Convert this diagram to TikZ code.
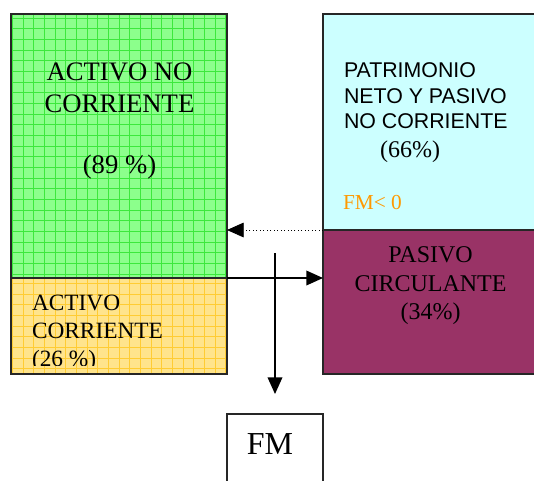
\documentclass[tikz,border=0pt]{standalone}
\usepackage{fontspec}
\setmainfont{Liberation Serif}
\setsansfont{Liberation Sans}
\usetikzlibrary{calc}
\usetikzlibrary{arrows,arrows.meta,shapes}
\usetikzlibrary{positioning}
\definecolor{verde}{RGB}{140,255,140}
\definecolor{verdegrid}{RGB}{60,232,60}
\definecolor{amarillo}{RGB}{255,228,140}
\definecolor{amarillogrid}{RGB}{255,204,51}
\definecolor{celeste}{RGB}{204,255,255}
\definecolor{ciruela}{RGB}{153,51,102}
\definecolor{naranja}{RGB}{255,153,0}

\begin{document}
\begin{tikzpicture}[x=0.75pt,y=-0.75pt]
      \tikzstyle{every node}=[inner sep=0pt,outer sep=0pt]
      \tikzstyle{caja}=[rectangle,draw=black!85,line width=1.2pt]
      \tikzstyle{rejillaverde}=[caja,fill=verde,path picture={\draw[verdegrid,line width=0.6pt,step=8pt] (path picture bounding box.south west) grid (path picture bounding box.north east);}]
      \tikzstyle{rejillaamarilla}=[caja,fill=amarillo,path picture={\draw[amarillogrid,line width=0.6pt,step=8pt] (path picture bounding box.south west) grid (path picture bounding box.north east);}]
      \tikzstyle{flecha}=[-{Triangle[length=12.5pt,width=11pt]},line width=1.1pt]
      \useasboundingbox (0,0) rectangle (534,480);
      \clip (0,0) rectangle (534,480);
      % cajas del balance
      \node[rejillaverde,minimum width=162pt,minimum height=198pt] (anc) at (119,146) {};
      \node[rejillaamarilla,minimum width=162pt,minimum height=72pt] (ac) at (119,326) {};
      \node[caja,fill=celeste,minimum width=166.5pt,minimum height=162pt] (pnc) at (434,122) {};
      \node[caja,fill=ciruela,minimum width=166.5pt,minimum height=108pt] (pc) at (434,302) {};
      \node[caja,fill=white,minimum width=72pt,minimum height=64.5pt] (fm) at (275,457) {};
      % textos
      \node[font=\fontsize{20}{24}\selectfont,align=center,anchor=north] (ancTxt) at (119.5,63) {ACTIVO NO\\CORRIENTE\\[21.75pt](89 \%)};
      \begin{scope}
        \clip (11,278) rectangle (227,365);
        \node[font=\fontsize{17.5}{21}\selectfont,align=left,anchor=north west] (acTxt) at (32,295) {ACTIVO\\CORRIENTE\\(26 \%)};
      \end{scope}
      \node[font=\sffamily\fontsize{16}{19}\selectfont,align=left,anchor=north west] (pncTxt) at (344,63) {PATRIMONIO\\NETO Y PASIVO\\NO CORRIENTE};
      \node[font=\fontsize{18}{21}\selectfont] (pncPct) at (410,152) {(66\%)};
      \node[font=\fontsize{16}{19}\selectfont,text=naranja,anchor=base west] (fmneg) at (343,209) {FM< 0};
      \node[font=\fontsize{18}{21.4}\selectfont,align=center,anchor=north] (pcTxt) at (430.5,247) {PASIVO\\CIRCULANTE\\(34\%)};
      \node[font=\fontsize{24}{28}\selectfont] (fmTxt) at (270,444) {FM};
      % flechas
      \coordinate (fmtop) at (275,253);
      \coordinate (fmend) at ([yshift=15pt]fm.north);
      \draw[flecha,line width=0.6pt,dotted] (pnc.south west) -- (anc.east |- pnc.south west);
      \draw[flecha] (anc.south east) -- (pc.west |- anc.south east);
      \draw[flecha] (fmtop) -- (fmend);
\end{tikzpicture}
\end{document}
